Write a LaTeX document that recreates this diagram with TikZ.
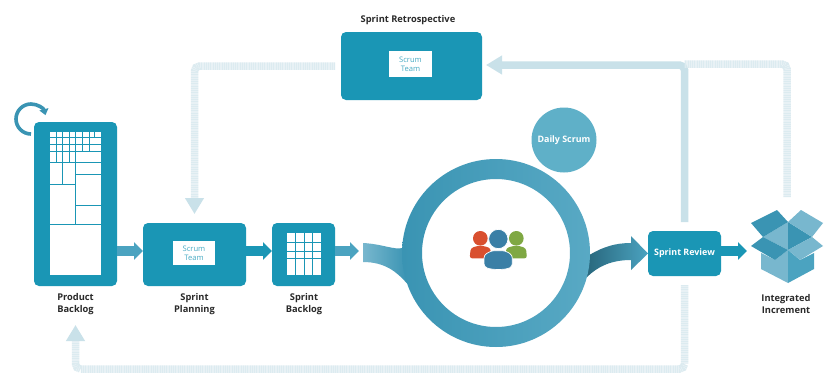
\documentclass[tikz,border=0pt]{standalone}
\usepackage{fontspec}
\setmainfont{Open Sans}
\usetikzlibrary{arrows.meta,calc,positioning}
\definecolor{teal}{HTML}{1A96B5}
\definecolor{feedA}{HTML}{C9E1E9}
\definecolor{feedB}{HTML}{DCEBF0}
\definecolor{ink}{HTML}{2A2A2A}
\definecolor{dailyc}{HTML}{5FB0C8}
\definecolor{boxA}{HTML}{3A94B3}
\definecolor{boxB}{HTML}{4BA3C0}
\definecolor{boxC}{HTML}{78B7CE}
\definecolor{pplred}{HTML}{D9502F}
\definecolor{pplgreen}{HTML}{7FA843}
\definecolor{pplblue}{HTML}{3A7FA6}
\tikzset{
  stepbox/.style={rectangle,rounded corners=5pt,fill=teal,draw=none,inner sep=0pt,outer sep=0pt},
  whitecard/.style={rectangle,fill=white,draw=none,inner sep=0pt,outer sep=0pt,align=center,text=teal!80!white,font=\fontsize{7.6}{9}\selectfont},
  lab/.style={align=center,text=ink,inner sep=0pt,font=\fontsize{9.3}{12}\selectfont\bfseries},
  blockarrow/.style={line width=10pt,draw=teal,-{Triangle[length=9pt,width=17pt,color=teal]}},
  blocksoft/.style={line width=10pt,draw=#1,-{Triangle[length=9pt,width=17pt,color=#1]}},
  feedsolid/.style={line width=7.5pt,draw=feedA,rounded corners=5pt,-{Triangle[length=16pt,width=18pt,color=feedA]}},
  feeddot/.style={line width=7.5pt,draw=feedB,rounded corners=5pt,dash pattern=on 1.3pt off 0.5pt},
  feeddotarrow/.style={feeddot,-{Triangle[length=16pt,width=18pt,color=feedA]}},
  gridline/.style={draw=teal,line width=0.7pt},
}
\begin{document}
\begin{tikzpicture}[x=1pt,y=-1pt]
\useasboundingbox[fill=white] (0,0) rectangle (833,383);

% Nodes
\node[stepbox,minimum width=83pt,minimum height=164pt] (pb) at (75.5,204) {};
\node[stepbox,minimum width=103pt,minimum height=63pt] (planning) at (194.5,254.5) {};
\node[stepbox,minimum width=63pt,minimum height=63pt] (sbacklog) at (303.5,254.5) {};
\node[stepbox,minimum width=141pt,minimum height=68pt] (retro) at (411.5,66) {};
\node[stepbox,minimum width=73pt,minimum height=45pt,text=white,font=\fontsize{8.9}{10}\selectfont\bfseries] (review) at (684.5,253.5) {Sprint Review};
\node[circle,fill=dailyc,inner sep=0pt,outer sep=0pt,minimum size=65pt,text=white,font=\fontsize{8.9}{10}\selectfont\bfseries] (daily) at (564,140) {Daily Scrum};
\node[circle,inner sep=0pt,outer sep=0pt,minimum size=188pt] (ring) at (496,253) {};
\node[inner sep=0pt,outer sep=0pt,minimum width=72pt,minimum height=73pt] (incr) at (787,246.5) {};
\coordinate (aline) at (0,251);

% White inserts
\node[whitecard,minimum width=51pt,minimum height=143pt] (pbcard) at (75.5,203.5) {};
\node[whitecard,minimum width=42pt,minimum height=24pt] (plancard) at (194,253) {Scrum\\Team};
\node[whitecard,minimum width=43pt,minimum height=26pt] (retrocard) at (410.5,64) {Scrum\\Team};
\node[rectangle,fill=white,inner sep=0pt,outer sep=0pt,minimum width=34pt,minimum height=42pt] (sbcard) at (304,254) {};

% Labels
\node[lab] (lpb) at (75.5,304) {Product\\Backlog};
\node[lab] (lplan) at (194.5,304) {Sprint\\Planning};
\node[lab] (lsb) at (304,304) {Sprint\\Backlog};
\node[lab] (lretro) at (408,20) {Sprint Retrospective};
\node[lab] (lincr) at (786,304) {Integrated\\Increment};

% Product backlog grid
\begin{scope}[shift={(0,90)},x=0.33333pt,y=-0.33333pt]
  \foreach \yy in {143,162,183,217,403} \draw[gridline] (150,\yy) -- (302,\yy);
  \draw[gridline] (227,253) -- (302,253);
  \draw[gridline] (150,283) -- (227,283);
  \draw[gridline] (227,346) -- (302,346);
  \foreach \xx in {170,207} \draw[gridline] (\xx,125) -- (\xx,217);
  \draw[gridline] (188,125) -- (188,283);
  \draw[gridline] (227,125) -- (227,403);
  \foreach \xx in {248,267} \draw[gridline] (\xx,125) -- (\xx,183);
  \draw[gridline] (283,125) -- (283,145);
\end{scope}

% Sprint backlog grid
\begin{scope}[shift={(260,90)},x=0.33333pt,y=-0.33333pt]
  \foreach \yy in {458,483,505} \draw[gridline] (80,\yy) -- (182,\yy);
  \foreach \xx in {106,132,157} \draw[gridline] (\xx,430) -- (\xx,555);
\end{scope}

% Loop on the product backlog
\draw[line width=3.6pt,draw=boxA,-{Triangle[length=6pt,width=9pt]}] (31,134) arc[start angle=90,end angle=345,radius=15];

% Block arrows
\draw[blocksoft=boxB] (pb.east |- aline) -- (planning.west |- aline);
\draw[blockarrow] (planning.east |- aline) -- (sbacklog.west |- aline);
\draw[blocksoft=boxB] (sbacklog.east |- aline) -- ++(24,0);
\draw[blockarrow] (review.east |- aline) -- ++(26,0);

% Swooshes
\shade[left color=boxC,right color=boxA]
  (363,243) .. controls (382,244) and (394,250) .. (ring.177) -- (ring.199)
  .. controls (397,272) and (385,262) .. (363,262) -- cycle;
\shade[left color=boxA!70!black,right color=boxB]
  (ring.-1) .. controls (603,247) and (615,243) .. (631,243) -- (631,236)
  -- (review.west) -- (631,270) -- (631,260)
  .. controls (612,260) and (598,266) .. (ring.-15) -- cycle;

% Ring
\shade[even odd rule,shading angle=20,left color=boxA,right color=boxB!70!boxC]
  (ring.center) circle[radius=94] (ring.center) circle[radius=74];

% People icon
\begin{scope}[shift={(260,90)},x=0.33333pt,y=-0.33333pt]
  \fill[pplred] (661,445) circle[radius=22];
  \fill[pplgreen] (769,445) circle[radius=22];
  \fill[pplred,rounded corners=2.5pt] (629,505) -- (632,475) -- (650,468) -- (672,468) -- (692,475) -- (692,505) -- cycle;
  \fill[pplgreen,rounded corners=2.5pt] (738,505) -- (738,475) -- (758,468) -- (780,468) -- (798,475) -- (801,505) -- cycle;
  \filldraw[fill=pplblue,draw=white,line width=0.7pt] (715,447) circle[radius=29];
  \filldraw[fill=pplblue,draw=white,line width=0.7pt,rounded corners=3pt] (672,530) -- (672,495) -- (695,482) -- (735,482) -- (757,495) -- (757,530) .. controls (735,540) and (695,540) .. cycle;
\end{scope}

% Feedback paths
\coordinate (corner) at (684.5,64);
\coordinate (bot) at (400,369);
\draw[feeddotarrow,shorten <=6pt,shorten >=9pt] (retro.west) -| (planning.north);
\draw[feedsolid,shorten <=9pt,shorten >=4pt] (review.north) |- ($(retro.east)+(0,-1)$);
\draw[feeddot,shorten >=13pt] (corner) -| (incr.north);
\draw[feeddotarrow,shorten <=9pt,shorten >=39pt] (review.south) |- (bot) -| (pb.south);

% Integrated increment box
\begin{scope}
  \fill[boxC] (761,253) -- (775,260) -- (788,250) -- (788,283) -- (761,269) -- cycle;
  \fill[boxB] (814,253) -- (800,260) -- (788,250) -- (788,283) -- (814,269) -- cycle;
  \fill[boxC] (763,237) -- (788,222) -- (788,250) -- cycle;
  \fill[boxA] (812,237) -- (788,222) -- (788,250) -- cycle;
  \fill[boxA] (751,223) -- (777,210) -- (788,222) -- (763,237) -- cycle;
  \fill[boxC] (801,210) -- (823,223) -- (812,237) -- (788,222) -- cycle;
  \fill[boxA] (751,246) -- (763,237) -- (788,250) -- (775,260) -- cycle;
  \fill[boxC] (823,246) -- (812,237) -- (788,250) -- (800,260) -- cycle;
\end{scope}
\end{tikzpicture}
\end{document}
